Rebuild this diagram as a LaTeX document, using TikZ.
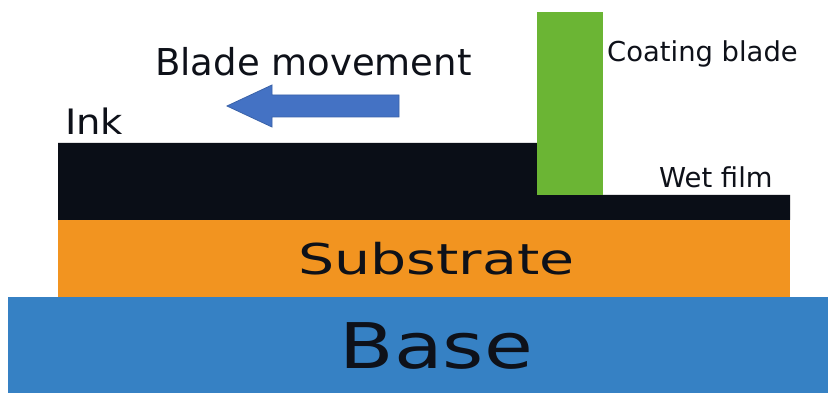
\documentclass[tikz,border=0pt]{standalone}
\usepackage{fontspec}
\setmainfont{DejaVu Sans}
\definecolor{inkblack}{HTML}{0A0E17}
\definecolor{subor}{HTML}{F29420}
\definecolor{baseblue}{HTML}{3681C4}
\definecolor{bladegreen}{HTML}{6BB534}
\definecolor{arrfill}{HTML}{4472C4}
\definecolor{arrline}{HTML}{3A62A8}
\definecolor{txt}{HTML}{0E1119}
\begin{document}
\begin{tikzpicture}[x=1pt,y=-1pt,
  lbl/.style={inner sep=0pt, text=txt, anchor=base west},
  lblc/.style={inner sep=0pt, text=txt, anchor=base}]
\useasboundingbox (0,0) rectangle (828,393);
\fill[white] (0,0) rectangle (828,393);
% base
\fill[baseblue] (8,297) rectangle (828,393);
% substrate
\fill[subor] (58,220) rectangle (790,297);
% ink and wet film
\fill[inkblack] (58,143) -- (537,143) -- (537,195) -- (790,195) -- (790,220) -- (58,220) -- cycle;
% blade
\fill[bladegreen] (537,12) rectangle (603,195);
% arrow
\filldraw[fill=arrfill, draw=arrline, line width=0.8pt, line join=miter]
  (227,106) -- (272,85) -- (272,95) -- (399,95) -- (399,117) -- (272,117) -- (272,127) -- cycle;
% labels
\node[lbl] (bm) at (155,76) {\fontsize{37}{40}\selectfont Blade movement};
\node[lbl, xscale=1.1] (ink) at (65,135) {\fontsize{35}{38}\selectfont Ink};
\node[lbl] (cb) at (607,62) {\fontsize{27.4}{30}\selectfont Coating blade};
\node[lbl] (wf) at (659,188) {\fontsize{27.4}{30}\selectfont Wet film};
\node[lblc, xscale=1.34] (sub) at (436.5,274) {\fontsize{42.5}{45}\selectfont Substrate};
\node[lblc, xscale=1.26] (base) at (436.5,368) {\fontsize{63}{66}\selectfont Base};
\end{tikzpicture}
\end{document}
